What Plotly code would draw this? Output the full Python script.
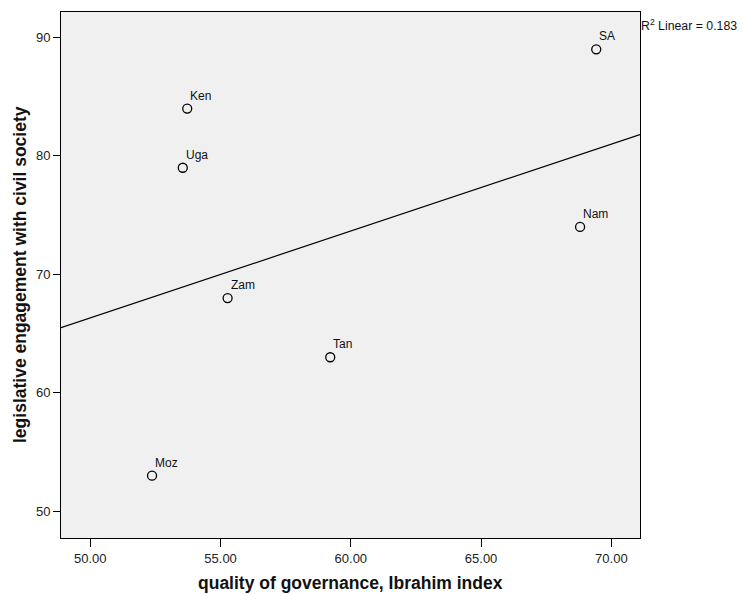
import numpy as np
import plotly.graph_objects as go

countries = ["Ken", "Uga", "SA", "Zam", "Tan", "Moz", "Nam"]
governance = [53.72, 53.55, 69.42, 55.27, 59.21, 52.37, 68.80]
engagement = [84, 79, 89, 68, 63, 53, 74]
x_ticks = [50, 55, 60, 65, 70]
y_ticks = [50, 60, 70, 80, 90]

x_range = [48.875, 71.1]
y_range = [47.74, 92.15]

xa = np.array(governance)
ya = np.array(engagement)
slope, intercept = np.polyfit(xa, ya, 1)
r2 = np.corrcoef(xa, ya)[0, 1] ** 2
line_x = np.array(x_range)
line_y = slope * line_x + intercept

FONT = "Liberation Sans, Arial, sans-serif"

fig = go.Figure()
fig.add_trace(go.Scatter(
    x=line_x, y=line_y, mode="lines",
    line=dict(color="black", width=1.2),
    hoverinfo="skip", showlegend=False, cliponaxis=True,
))
fig.add_trace(go.Scatter(
    x=governance, y=engagement, mode="markers",
    marker=dict(symbol="circle-open", size=9, color="black", line=dict(width=1.3)),
    showlegend=False,
))

for c, gx, gy in zip(countries, governance, engagement):
    fig.add_annotation(
        x=gx, y=gy, text=c, showarrow=False,
        xanchor="left", yanchor="bottom", xshift=1, yshift=4,
        font=dict(family=FONT, size=12, color="#111"),
    )

fig.add_annotation(
    xref="paper", yref="paper", x=1.0, y=1.0, xshift=-1, yshift=-3,
    text="R<sup>2</sup> Linear = %.3f" % r2, showarrow=False,
    xanchor="left", yanchor="top",
    font=dict(family=FONT, size=12.3, color="#111"),
)

# axis titles
fig.add_annotation(
    xref="paper", yref="paper", x=0.5, y=0, yshift=-45,
    text="<b>quality of governance, Ibrahim index</b>", showarrow=False,
    xanchor="center", yanchor="middle",
    font=dict(family=FONT, size=17.5, color="#111"),
)
fig.add_annotation(
    xref="paper", yref="paper", x=0, y=0.5, xshift=-41,
    text="<b>legislative engagement with civil society</b>", showarrow=False,
    xanchor="center", yanchor="middle", textangle=-90,
    font=dict(family=FONT, size=17.5, color="#111"),
)

fig.update_layout(
    width=743, height=594,
    margin=dict(l=61, r=103, t=12, b=56, autoexpand=False),
    paper_bgcolor="white", plot_bgcolor="#F0F0F0",
    font=dict(family=FONT, size=13, color="#222"),
    xaxis=dict(
        range=x_range, tickvals=x_ticks, ticktext=["%.2f" % v for v in x_ticks],
        showgrid=False, zeroline=False, showline=True, linecolor="black", linewidth=1,
        mirror=True, ticks="outside", ticklen=8, tickcolor="black", tickwidth=1,
        tickfont=dict(family=FONT, size=13, color="#222"), automargin=False,
    ),
    yaxis=dict(
        range=y_range, tickvals=y_ticks,
        showgrid=False, zeroline=False, showline=True, linecolor="black", linewidth=1,
        mirror=True, ticks="outside", ticklen=7, tickcolor="black", tickwidth=1,
        tickfont=dict(family=FONT, size=13, color="#222"), automargin=False,
    ),
)

fig.write_html("out.html")
